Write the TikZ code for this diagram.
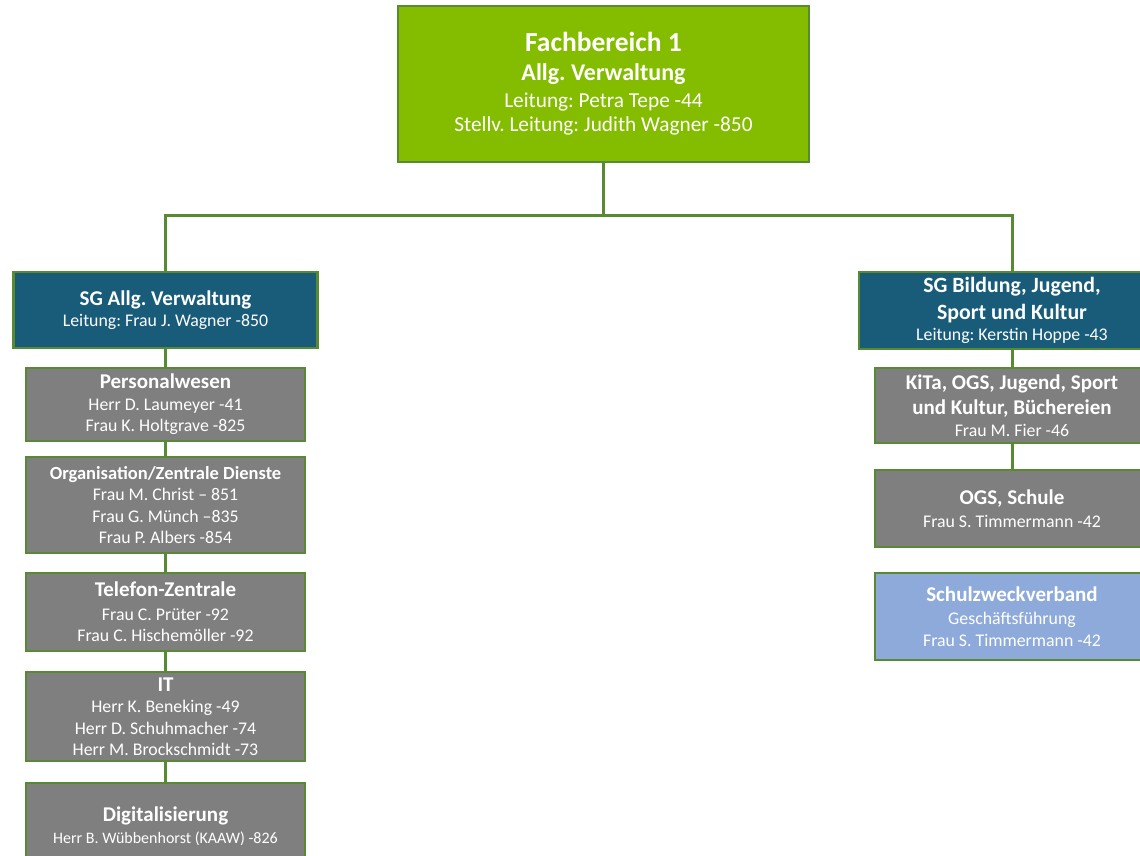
\documentclass[tikz,border=0pt]{standalone}
\usepackage{fontspec}
\setmainfont{Carlito}
\frenchspacing
\definecolor{fbgreen}{RGB}{132,189,0}
\definecolor{edgegreen}{RGB}{88,138,52}
\definecolor{sgblue}{RGB}{24,92,122}
\definecolor{unitgrey}{RGB}{127,127,127}
\definecolor{szvblue}{RGB}{142,170,219}
\newcommand{\ttl}[2][21]{{\bfseries\fontsize{#1}{#1}\selectfont #2}}

\begin{document}
\begin{tikzpicture}[x=1pt,y=-1pt,
    box/.style={draw=edgegreen,line width=2.5pt,text=white,align=center,inner sep=0pt,
        font=\fontsize{17.8}{21.5}\selectfont},
    unit/.style={box,fill=unitgrey,minimum width=279pt},
    sg/.style={box,fill=sgblue},
    conn/.style={edgegreen,line width=3pt}]
    \path[use as bounding box,clip] (0,0) rectangle (1140,855);
    % Fachbereich
    \node[box,fill=fbgreen,minimum width=411pt,minimum height=156pt,font=\fontsize{21.3}{24}\selectfont] (FB) at (603.5,84)
        {\ttl[27.5]{Fachbereich 1}\\[5pt]\ttl[24]{Allg. Verwaltung}\\[3pt]Leitung: Petra Tepe -44\\Stellv. Leitung: Judith Wagner -850};
    % left column
    \node[sg,minimum width=304pt,minimum height=76pt] (SGA) at (165.5,310)
        {\ttl{SG Allg. Verwaltung}\\Leitung: Frau J. Wagner -850};
    \node[unit,minimum height=73pt] (PW) at (165.5,404.5)
        {\ttl{Personalwesen}\\Herr D. Laumeyer -41\\Frau K. Holtgrave -825};
    \node[unit,minimum height=96pt] (OZ) at (165.5,505)
        {\ttl[18.5]{Organisation/Zentrale Dienste}\\Frau M. Christ – 851\\Frau G. Münch –835\\Frau P. Albers -854};
    \node[unit,minimum height=78pt] (TZ) at (165.5,612)
        {\ttl{Telefon-Zentrale}\\[2pt]Frau C. Prüter -92\\Frau C. Hischemöller -92};
    \node[unit,minimum height=89pt] (IT) at (165.5,716.5)
        {\ttl{IT}\\Herr K. Beneking -49\\Herr D. Schuhmacher -74\\Herr M. Brockschmidt -73};
    \node[unit,minimum height=86pt] (DG) at (165.5,826)
        {\ttl{Digitalisierung}\\{\fontsize{16}{21.5}\selectfont Herr B. Wübbenhorst (KAAW) -826}};
    % right column
    \node[sg,minimum width=306pt,minimum height=77pt] (SGB) at (1012,310.5)
        {\ttl[21.8]{SG Bildung, Jugend,}\\[5.5pt]\ttl[21.8]{Sport und Kultur}\\Leitung: Kerstin Hoppe -43};
    \node[unit,minimum width=274pt,minimum height=75pt] (KJ) at (1012,405.5)
        {\ttl{KiTa, OGS, Jugend, Sport}\\[4pt]\ttl{und Kultur, Büchereien}\\Frau M. Fier -46};
    \node[unit,minimum width=274pt,minimum height=77pt] (OS) at (1012,508.5)
        {\ttl{OGS, Schule}\\[1.5pt]Frau S. Timmermann -42};
    \node[box,fill=szvblue,minimum width=274pt,minimum height=87pt] (SZ) at (1012,616.5)
        {\ttl{Schulzweckverband}\\[1.5pt]Geschäftsführung\\Frau S. Timmermann -42};
    % connectors
    \draw[conn] (FB.south) -- ++(0,52) coordinate (bus);
    \draw[conn] (SGA.north) |- (bus) -| (SGB.north);
    \foreach \a/\b in {SGA/PW,PW/OZ,OZ/TZ,TZ/IT,IT/DG,SGB/KJ,KJ/OS}
        \draw[conn] (\a.south) -- (\b.north);
\end{tikzpicture}
\end{document}
